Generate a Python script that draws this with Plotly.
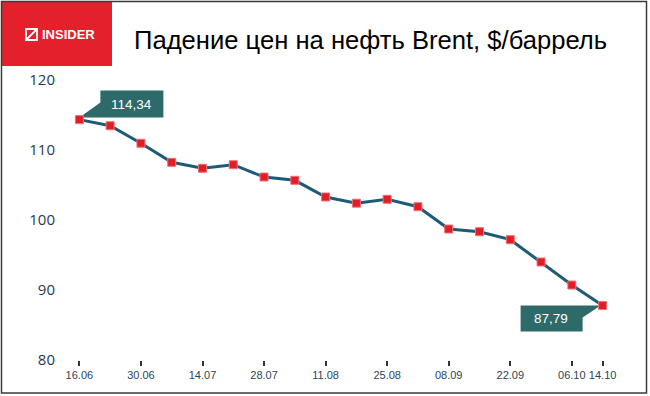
import plotly.graph_objects as go

# ---- data ----
dates = ['16.06', '23.06', '30.06', '07.07', '14.07', '21.07', '28.07', '04.08', '11.08',
         '18.08', '25.08', '01.09', '08.09', '15.09', '22.09', '29.09', '06.10', '14.10']
prices = [114.34, 113.47, 110.96, 108.24, 107.39, 107.90, 106.14, 105.67, 103.29,
          102.40, 102.96, 101.90, 98.71, 98.33, 97.19, 94.00, 90.71, 87.79]
shown_ticks = ['16.06', '30.06', '14.07', '28.07', '11.08', '25.08', '08.09', '22.09', '06.10', '14.10']
y_ticks = [80, 90, 100, 110, 120]
title_text = 'Падение цен на нефть Brent, $/баррель'
brand = 'INSIDER'

W, H = 650, 396
ML, MR, MT, MB = 64, 32, 73, 36
PW = W - ML - MR
PH = H - MT - MB


def X(px):
    return (px - ML) / PW


def Y(py):
    return (H - MB - py) / PH


xs = list(range(len(dates)))
tickvals = [dates.index(d) for d in shown_ticks]

fig = go.Figure()
fig.add_trace(go.Scatter(
    x=xs, y=prices, mode='lines+markers',
    line=dict(color='#1d5b77', width=3),
    marker=dict(symbol='square', size=8, color='#e11d25', line=dict(color='#f07078', width=1)),
    cliponaxis=False, hoverinfo='skip', showlegend=False,
))

shapes = []
# red header box
shapes.append(dict(type='rect', xref='paper', yref='paper', x0=X(2), x1=X(112), y0=Y(66), y1=Y(2),
                   fillcolor='#e3202b', line=dict(width=0), layer='below'))
# logo icon
shapes.append(dict(type='rect', xref='paper', yref='paper', x0=X(26), x1=X(37), y0=Y(40), y1=Y(29),
                   line=dict(color='white', width=1.8), fillcolor='rgba(0,0,0,0)'))
shapes.append(dict(type='line', xref='paper', yref='paper', x0=X(26), x1=X(37), y0=Y(40), y1=Y(29),
                   line=dict(color='white', width=1.8)))
# outer frame
shapes.append(dict(type='rect', xref='paper', yref='paper', x0=X(1.5), x1=X(646.5), y0=Y(393), y1=Y(1.5),
                   line=dict(color='#3b3b3b', width=1.5), fillcolor='rgba(0,0,0,0)'))

# callouts anchored at first and last points
first_i, last_i = 0, len(prices) - 1
shapes.append(dict(type='path', xref='x', yref='y', xsizemode='pixel', ysizemode='pixel',
                   xanchor=first_i, yanchor=prices[first_i],
                   path='M 0,2 L 21,17 L 21,29 L 84,29 L 84,2 Z',
                   fillcolor='#2d6a69', line=dict(width=0), layer='below'))
shapes.append(dict(type='path', xref='x', yref='y', xsizemode='pixel', ysizemode='pixel',
                   xanchor=last_i, yanchor=prices[last_i],
                   path='M -2,0 L -20,-12 L -20,-26 L -82,-26 L -82,0 Z',
                   fillcolor='#2d6a69', line=dict(width=0), layer='below'))


def fmt(v):
    return f'{v:.2f}'.replace('.', ',')


annotations = [
    dict(xref='x', yref='y', x=first_i, y=prices[first_i], text=fmt(prices[first_i]), showarrow=False,
         xshift=52, yshift=15.5, font=dict(family='Liberation Sans, Arial', size=13.5, color='white')),
    dict(xref='x', yref='y', x=last_i, y=prices[last_i], text=fmt(prices[last_i]), showarrow=False,
         xshift=-52, yshift=-13, font=dict(family='Liberation Sans, Arial', size=13.5, color='white')),
    dict(xref='paper', yref='paper', x=X(39.5), y=Y(34.5), xanchor='left', yanchor='middle',
         text='<b>' + brand + '</b>', showarrow=False,
         font=dict(family='Liberation Sans, Arial', size=13, color='white')),
    dict(xref='paper', yref='paper', x=X(132), y=Y(40), xanchor='left', yanchor='middle',
         text=title_text, showarrow=False,
         font=dict(family='Liberation Sans, Arial', size=25.6, color='black')),
]

fig.update_layout(
    width=W, height=H,
    margin=dict(l=ML, r=MR, t=MT, b=MB, pad=0),
    paper_bgcolor='white', plot_bgcolor='white',
    shapes=shapes, annotations=annotations,
    xaxis=dict(range=[-0.5, len(dates) - 0.5], tickvals=tickvals, ticktext=shown_ticks,
               showgrid=False, zeroline=False, showline=False,
               ticks='outside', ticklen=5, tickwidth=1.5, tickcolor='#333', ticklabelstandoff=0,
               tickfont=dict(family='Liberation Sans, Arial', size=11, color='#2c4556')),
    yaxis=dict(range=[80, 121], tickvals=y_ticks, showgrid=False, zeroline=False, showline=False,
               ticks='', ticklabelstandoff=8,
               tickfont=dict(family='Open Sans', size=15, color='#1f3b4d')),
)

fig.write_html('out.html', config={'displayModeBar': False},
               post_script="document.body.style.margin='0';document.body.style.overflow='hidden';")
